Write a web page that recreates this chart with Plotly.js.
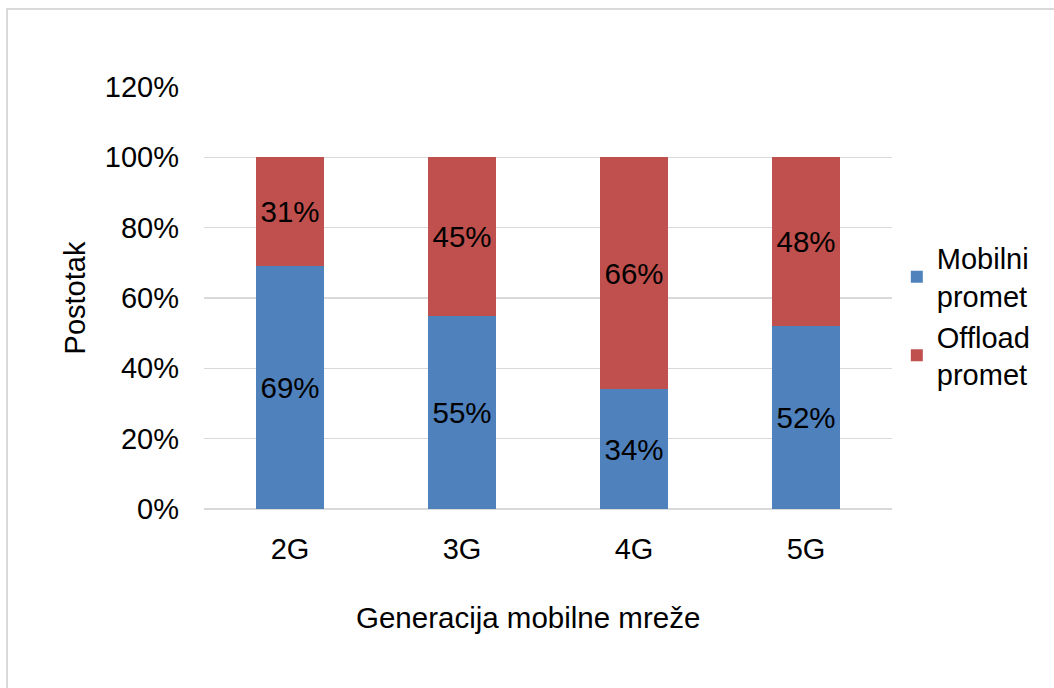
<!DOCTYPE html>
<html>
<head>
<meta charset="utf-8">
<script src="https://cdn.plot.ly/plotly-3.0.1.min.js"></script>
<style>
html,body{margin:0;padding:0;background:#fff;}
#chart{width:1054px;height:688px;}
</style>
</head>
<body>
<div id="chart"></div>
<script>
const categories = ["2G", "3G", "4G", "5G"];
const mobilni = [69, 55, 34, 52];
const offload = [31, 45, 66, 48];
const seriesNames = ["Mobilni<br>promet", "Offload<br>promet"];
const yTickVals = [0, 20, 40, 60, 80, 100, 120];
const yTickText = ["0%", "20%", "40%", "60%", "80%", "100%", "120%"];
const xTitle = "Generacija mobilne mreže";
const yTitle = "Postotak";

const fontFam = "Liberation Sans, Arial, sans-serif";
const labels = arr => arr.map(v => v + "%");

const traces = [
  {
    type: "bar", x: categories, y: mobilni, name: seriesNames[0],
    marker: {color: "#4F81BD"},
    text: labels(mobilni), textposition: "inside", insidetextanchor: "middle",
    textfont: {family: fontFam, size: 29.5, color: "#000"},
    hoverinfo: "x+y"
  },
  {
    type: "bar", x: categories, y: offload, name: seriesNames[1],
    marker: {color: "#C0504D"},
    text: labels(offload), textposition: "inside", insidetextanchor: "middle",
    textfont: {family: fontFam, size: 29.5, color: "#000"},
    hoverinfo: "x+y"
  }
];

const layout = {
  width: 1054, height: 688,
  margin: {l: 204, r: 162, t: 87, b: 179},
  paper_bgcolor: "#fff", plot_bgcolor: "#fff",
  barmode: "stack", bargap: 0.6,
  uniformtext: {mode: false},
  font: {family: fontFam, size: 29, color: "#000"},
  xaxis: {
    type: "category", showgrid: false, zeroline: false, showline: false,
    ticks: "", tickfont: {size: 29}, ticklabelstandoff: 20
  },
  yaxis: {
    range: [0, 120], tickvals: yTickVals, ticktext: yTickText,
    showgrid: true, gridcolor: "#d9d9d9", gridwidth: 1.3,
    zeroline: true, zerolinecolor: "#d9d9d9", zerolinewidth: 1.3,
    showline: false, ticks: "", tickfont: {size: 29}, ticklabelstandoff: 24,
    title: {text: yTitle, font: {size: 29}, standoff: 10}
  },
  annotations: [
    {text: xTitle, xref: "paper", yref: "paper", x: 0.471, y: -0.256,
     xanchor: "center", yanchor: "middle", showarrow: false,
     font: {family: fontFam, size: 29.5, color: "#000"}}
  ],
  legend: {
    x: 1.007, y: 0.457, xanchor: "left", yanchor: "middle",
    traceorder: "normal", font: {size: 29}, itemwidth: 30,
    bgcolor: "rgba(0,0,0,0)"
  },
  shapes: [
    {type: "rect", xref: "paper", yref: "paper",
     x0: -0.2863, x1: 1.3, y0: -0.5, y1: 1.1848,
     line: {color: "#d9d9d9", width: 2}, fillcolor: "rgba(0,0,0,0)", layer: "below"}
  ],
  showlegend: true
};

Plotly.newPlot("chart", traces, layout, {displayModeBar: false, staticPlot: true});
</script>
</body>
</html>
